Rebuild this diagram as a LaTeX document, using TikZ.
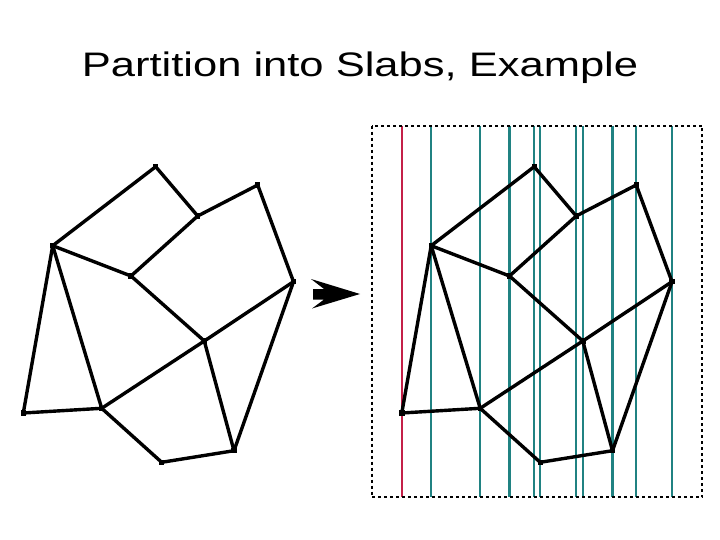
\documentclass[tikz,border=0pt]{standalone}
\usepackage{fontspec}
\setmainfont{Liberation Sans}
\usepackage{tikz}
\usetikzlibrary{calc}

\definecolor{slabred}{RGB}{196,32,72}
\definecolor{slabteal}{RGB}{32,130,130}

\tikzset{
  edge/.style={line width=3.4pt,line cap=round,line join=round},
  slab/.style={line width=2.4pt,slabteal},
  vtx/.style={fill=black},
}

\begin{document}
\begin{tikzpicture}[x=1pt,y=-1pt]
      \useasboundingbox (0,0) rectangle (720,540);
      \node[anchor=base,inner sep=0pt,font=\fontsize{34}{40}\selectfont] (title) at (360,76.7) {\scalebox{1.28}[1]{Partition into Slabs, Example}};
      \foreach \s/\p in {0/l,378.5/r} {
        \coordinate (\p a) at (155.7+\s,166.7);
        \coordinate (\p b) at (197.7+\s,216);
        \coordinate (\p c) at (257.7+\s,185);
        \coordinate (\p d) at (52.7+\s,245.7);
        \coordinate (\p e) at (131+\s,276);
        \coordinate (\p f) at (293.5+\s,281.7);
        \coordinate (\p g) at (204.3+\s,341);
        \coordinate (\p h) at (23.3+\s,413);
        \coordinate (\p i) at (101.7+\s,408.3);
        \coordinate (\p j) at (161.7+\s,462.3);
        \coordinate (\p k) at (234+\s,450.7);
      }
      \coordinate (top) at (371.7,125.7);
      \coordinate (bot) at (702.3,497.3);
      \foreach \v in {d,i,e,a,j,b,g,k,c,f}
        \draw[slab] (r\v |- top) -- (r\v |- bot);
      \draw[slab,slabred] (rh |- top) -- (rh |- bot);
      \draw[line width=2pt,dash pattern=on 3pt off 3pt] (top) rectangle (bot);
      \foreach \p in {l,r} {
        \foreach \u/\v in {a/d,a/b,b/c,b/e,d/e,c/f,e/g,f/g,g/i,f/k,g/k,d/h,d/i,h/i,i/j,j/k}
          \draw[edge] (\p\u) -- (\p\v);
        \foreach \v in {a,b,c,d,e,f,g,h,i,j,k}
          \fill[vtx] ($(\p\v)+(-2.7,-2.7)$) rectangle ($(\p\v)+(2.7,2.7)$);
      }
      \fill (311,279) -- (360,294) -- (312,308.5) -- (324,299.5) -- (313,299.5) -- (313,289) -- (324,289) -- cycle;
\end{tikzpicture}
\end{document}
